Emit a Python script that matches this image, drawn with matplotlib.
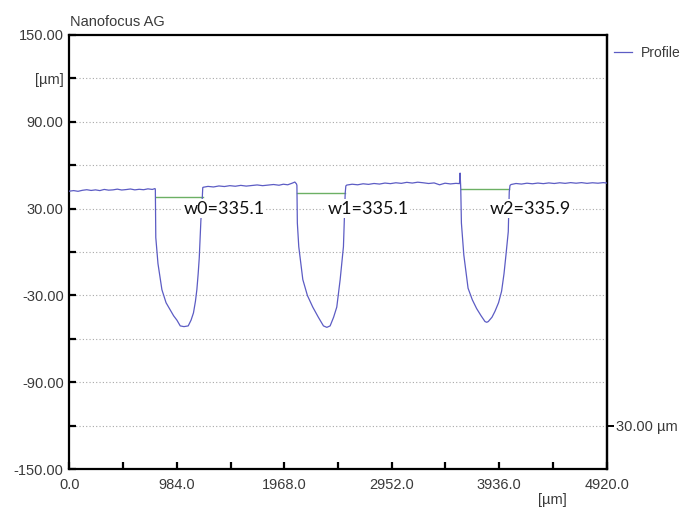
import matplotlib
matplotlib.use("Agg")
import matplotlib.pyplot as plt
import numpy as np

plt.rcParams['font.family'] = ['Liberation Sans', 'DejaVu Sans']

seg_a_x = [0, 40, 80, 120, 160, 200, 240, 280, 320, 360, 400, 440, 480, 520, 560,
           600, 640, 680, 720, 760, 785]
seg_a_z = [42.0, 42.4, 41.9, 42.6, 43.0, 42.5, 42.9, 42.4, 43.2, 42.7, 42.9, 43.4,
           42.8, 43.1, 43.5, 42.9, 43.3, 43.0, 43.6, 43.2, 43.8]

trench1_x = [788, 792, 812, 848, 886, 924, 955, 985, 1016, 1050, 1089, 1115, 1137,
             1155, 1168, 1180, 1190, 1205, 1218, 1222]
trench1_z = [43.0, 10.0, -8.0, -26.0, -35.0, -40.0, -44.0, -47.0, -51.0, -51.5, -51.0,
             -47.0, -42.0, -34.0, -26.0, -15.0, -4.0, 22.0, 38.0, 44.5]

seg_b_x = [1226, 1270, 1320, 1370, 1420, 1470, 1520, 1570, 1620, 1670, 1720, 1770,
           1820, 1870, 1920, 1960, 2000, 2040, 2065, 2080]
seg_b_z = [44.7, 45.3, 44.9, 45.6, 45.2, 45.8, 45.4, 46.0, 45.5, 45.9, 46.3, 45.8,
           46.2, 46.6, 46.1, 46.8, 46.4, 47.5, 48.3, 47.0]

trench2_x = [2084, 2088, 2101, 2138, 2180, 2229, 2280, 2327, 2358, 2388, 2420, 2449,
             2480, 2510, 2526, 2532]
trench2_z = [46.0, 20.0, 3.7, -19.0, -30.0, -38.0, -45.0, -51.0, -52.0, -51.0, -45.0,
             -38.0, -19.0, 3.7, 40.5, 45.6]

seg_c_x = [2540, 2590, 2640, 2690, 2740, 2790, 2840, 2890, 2940, 2990, 3040, 3090,
           3140, 3190, 3240, 3290, 3340, 3390, 3440, 3490, 3540, 3572]
seg_c_z = [46.2, 46.8, 46.4, 47.1, 46.7, 47.3, 46.9, 47.6, 47.2, 47.8, 47.4, 48.1,
           47.6, 48.2, 47.8, 47.3, 47.7, 46.4, 47.5, 47.0, 47.4, 47.2]

trench3_x = [3578, 3584, 3590, 3612, 3651, 3690, 3729, 3770, 3806, 3822, 3836, 3870,
             3897, 3930, 3958, 3980, 3998, 4019, 4028, 4035]
trench3_z = [54.5, 44.0, 20.0, -2.0, -25.0, -33.0, -39.0, -44.0, -48.0, -48.5, -48.0,
             -45.0, -41.0, -35.0, -27.0, -15.0, -2.0, 14.0, 41.6, 46.0]

seg_d_x = [4045, 4090, 4140, 4190, 4240, 4290, 4340, 4390, 4440, 4490, 4540, 4590,
           4640, 4690, 4740, 4790, 4840, 4890, 4920]
seg_d_z = [46.6, 47.3, 46.9, 47.5, 47.1, 47.6, 47.2, 47.7, 47.3, 47.8, 47.4, 47.9,
           47.5, 47.9, 47.4, 47.8, 47.5, 47.9, 47.6]

# width markers (green) and their labels
w_start = [790, 2086, 3588]
w_end = [1220, 2526, 4028]
w_level = [38.2, 41.0, 43.3]
w_label_x = [1043, 2363, 3852]
w_labels = ['w0=335.1', 'w1=335.1', 'w2=335.9']

x_ticks = [0, 984, 1968, 2952, 3936, 4920]
x_ticklabels = ['0.0', '984.0', '1968.0', '2952.0', '3936.0', '4920.0']
y_ticks = [-150, -120, -90, -60, -30, 0, 30, 60, 90, 120, 150]
y_ticklabels = ['-150.00', '', '-90.00', '', '-30.00', '', '30.00', '', '90.00', '[µm]', '150.00']

prof_x = seg_a_x + trench1_x + seg_b_x + trench2_x + seg_c_x + trench3_x + seg_d_x
prof_z = seg_a_z + trench1_z + seg_b_z + trench2_z + seg_c_z + trench3_z + seg_d_z

fig = plt.figure(figsize=(6.88, 5.15), dpi=100)
ax = fig.add_axes([0.1007, 0.0887, 0.7811, 0.8439])

txt_col = '#3a3a3a'

ax.set_xlim(0, 4920)
ax.set_ylim(-150, 150)

for yy in y_ticks[1:-1]:
    ax.axhline(yy, color='#a8a8a8', lw=0.8, ls=(0, (1, 2)), zorder=1)

line, = ax.plot(prof_x, prof_z, color='#5c5cc4', lw=0.9, label='Profile', zorder=3)

for x0, x1, lv in zip(w_start, w_end, w_level):
    ax.plot([x0, x1], [lv, lv], color='#6cb064', lw=1.0, zorder=2)

for xl, lab in zip(w_label_x, w_labels):
    ax.text(xl, 30, lab, family=['Lato', 'DejaVu Sans'], fontsize=13, color='#111111',
            ha='left', va='center', zorder=4,
            bbox=dict(facecolor='white', edgecolor='none', pad=1.0))

for s in ax.spines.values():
    s.set_linewidth(1.6)
    s.set_color('black')

ax.set_xticks(x_ticks)
ax.set_xticklabels(x_ticklabels)
ax.set_xticks(np.arange(492, 4920, 984), minor=True)
ax.set_yticks(y_ticks)
ax.set_yticklabels(y_ticklabels)
ax.tick_params(axis='both', which='both', direction='in', length=5, width=1.6,
               labelsize=10.5, labelcolor=txt_col)
ax.tick_params(axis='x', which='both', pad=6)
ax.tick_params(axis='y', pad=4)

sec = ax.secondary_yaxis('right')
sec.set_yticks([-120])
sec.set_yticklabels(['30.00 µm'])
sec.tick_params(direction='out', length=5, width=1.4, labelsize=10.5,
                labelcolor=txt_col, pad=2)
sec.spines['right'].set_linewidth(1.6)

fig.text(0.1017, 0.957, 'Nanofocus AG', fontsize=10.5, color=txt_col, ha='left', va='center')
fig.text(0.803, 0.029, '[µm]', fontsize=10.5, color=txt_col, ha='center', va='center')

# legend sits right of the plot, squeezed so it stays inside the picture
ax.legend(handles=[line], loc='center left', bbox_to_anchor=(0.893, 0.897),
          bbox_transform=fig.transFigure, frameon=False, fontsize=10,
          handlelength=1.3, handletextpad=0.6, borderpad=0, borderaxespad=0,
          labelcolor=txt_col)

fig.savefig('out.png', dpi=100)
